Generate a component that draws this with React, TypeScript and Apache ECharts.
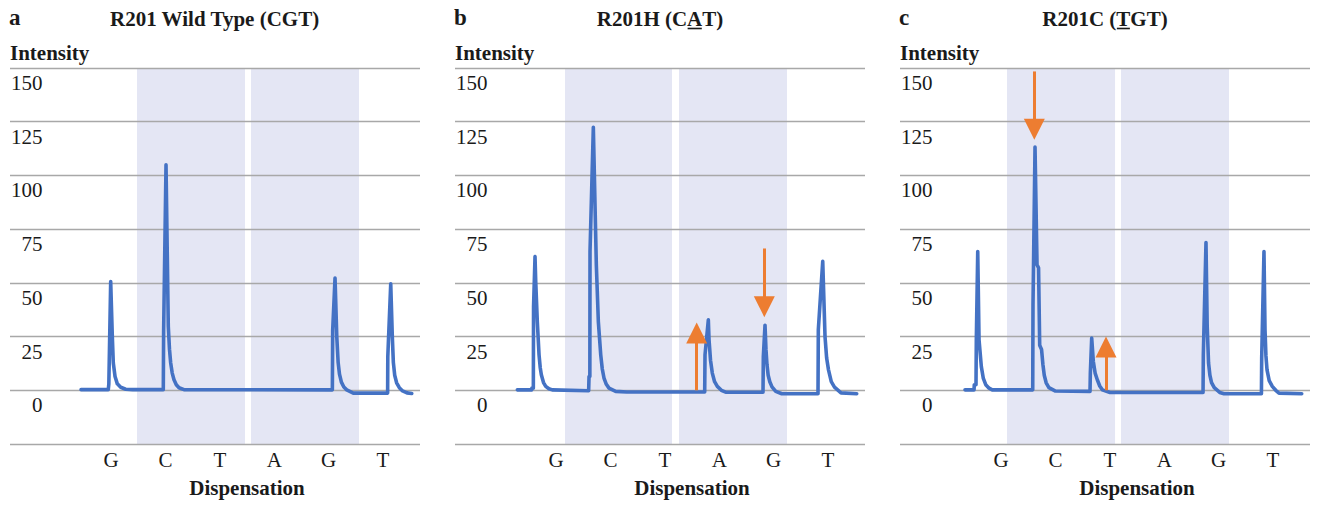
import React, { useEffect, useRef } from "react";
import * as echarts from "echarts";

// ---------- data ----------
const DISPENSATIONS = ["G", "C", "T", "A", "G", "T"];
const DISP_POS = [1, 2, 3, 4, 5, 6];
const PANEL_LETTERS = ["a", "b", "c"];
// [before underline, underlined, after underline]
const TITLES = [
  ["R201 Wild Type (CGT)", "", ""],
  ["R201H (C", "A", "T)"],
  ["R201C (", "T", "GT)"],
];
const Y_MIN = -25;
const Y_MAX = 150;
const Y_STEP = 25;
const X_MIN = -0.857;
const X_MAX = 6.68;

// pyrogram traces: [dispensation position, intensity]
const traceA = [
  [0.449, 0.3], [0.95, 0.3], [0.96, 3], [0.994, 50.6], [1.024, 25], [1.042, 12.7], [1.074, 6.4], [1.116, 3],
  [1.178, 1.4], [1.27, 0.5], [1.4, 0.3],
  [1.961, 0.3], [1.967, 27.4], [2.011, 105], [2.053, 29.7], [2.075, 19], [2.097, 12.7], [2.125, 8], [2.158, 4.9],
  [2.2, 2.6], [2.25, 1.2], [2.342, 0.3],
  [5.069, 0.2], [5.075, 28], [5.118, 52.2], [5.15, 25], [5.175, 13], [5.2, 7.5], [5.235, 3.8], [5.28, 1.5],
  [5.333, 0.2], [5.454, -1.3],
  [6.085, -1.3], [6.088, 15.7], [6.142, 49.6], [6.171, 25], [6.19, 13], [6.215, 7], [6.25, 3.5], [6.3, 1.2],
  [6.36, -0.3], [6.44, -1.2], [6.528, -1.5],
];
const traceB = [
  [0.289, 0.2], [0.553, 0.2], [0.556, 1], [0.583, 1], [0.587, 39], [0.614, 62.3], [0.627, 50.6], [0.656, 32],
  [0.688, 16.5], [0.71, 10.5], [0.73, 7.2], [0.77, 3.6], [0.811, 1.8], [0.87, 0.7], [0.932, 0.2],
  [1.6, -0.2], [1.607, 6.4], [1.622, 6.4], [1.625, 64.6], [1.686, 122.4], [1.741, 58.4], [1.778, 32], [1.822, 16.5],
  [1.85, 10], [1.882, 5.7], [1.925, 2.8], [1.974, 1], [2.097, -0.5], [2.3, -0.8],
  [3.733, -0.8], [3.739, 16.5], [3.8, 32.8], [3.813, 23.5], [3.84, 14], [3.873, 8], [3.915, 4], [3.965, 1.8],
  [4.04, 0], [4.119, -0.9],
  [4.805, -0.9], [4.811, 15.7], [4.842, 30.3], [4.86, 18.8], [4.878, 12], [4.9, 7], [4.93, 4], [4.97, 1.6],
  [5.039, -0.5], [5.15, -1.6],
  [5.816, -1.6], [5.822, 28.2], [5.903, 60], [5.945, 25], [5.975, 15], [6.009, 9.5], [6.06, 4], [6.119, 1.5],
  [6.239, -1.2], [6.528, -1.6],
];
const traceC = [
  [0.338, 0.2], [0.504, 0.2], [0.509, 2.6], [0.54, 2.6], [0.546, 23.5], [0.572, 64.6], [0.596, 23.5], [0.638, 11],
  [0.675, 5.5], [0.719, 2.6], [0.78, 1], [0.84, 0.2],
  [1.583, 0.2], [1.588, 39.8], [1.625, 113.2], [1.662, 58.4], [1.69, 57], [1.711, 21], [1.745, 19], [1.77, 12],
  [1.795, 7], [1.83, 3.5], [1.88, 1.2], [1.993, -0.3],
  [2.636, -0.5], [2.642, 8], [2.667, 24.3], [2.697, 13.4], [2.73, 8], [2.77, 4.9], [2.815, 2], [2.862, 0.2], [3.004, -1],
  [4.714, -1], [4.719, 16.5], [4.768, 68.8], [4.79, 30], [4.815, 12.7], [4.84, 7], [4.87, 3.6], [4.92, 1.2],
  [5.02, -1], [5.1, -1.6],
  [5.787, -1.6], [5.792, 15], [5.834, 64.6], [5.853, 28.2], [5.87, 16], [5.89, 9.5], [5.93, 4.5], [5.987, 1.8],
  [6.05, 0], [6.11, -1.3], [6.528, -1.6],
];
const TRACES = [traceA, traceB, traceC];

// shaded dispensation bands: [from, to]
const bandsA = [[1.478, 3.463], [3.574, 5.559]];
const bandsB = [[1.165, 3.132], [3.261, 5.246]];
const bandsC = [[1.11, 3.096], [3.206, 5.191]];
const BANDS = [bandsA, bandsB, bandsC];

// arrows: [position, intensity at tail, intensity at tip]
const arrowsA: number[][] = [];
const arrowsB = [[3.586, 0, 31.6], [4.829, 66, 34]];
const arrowsC = [[1.612, 148.4, 116.6], [2.93, 0, 25]];
const ARROWS = [arrowsA, arrowsB, arrowsC];

// ---------- layout / style ----------
const W = 1319;
const H = 506;
const GRID_LEFTS = [10, 455, 900];
const GRID_TOP = 68;
const GRID_W = 410;
const GRID_H = 376;
const FONT = '"Liberation Serif", "Times New Roman", serif';
const TEXT = "#1a1a1a";
const BLUE = "#4472C4";
const ORANGE = "#ED7D31";
const BAND = "#E4E6F4";
const GRIDLINE = "#A8A8A8";
const HEAD = 21;

function measure(text: string, font: string) {
  const c = document.createElement("canvas").getContext("2d");
  if (!c) return text.length * 10;
  c.font = font;
  return c.measureText(text).width;
}

function buildOption() {
  const pxPerUnit = GRID_H / (Y_MAX - Y_MIN);
  const titleFont = `bold 21px ${FONT}`;
  const graphics: any[] = [];

  GRID_LEFTS.forEach((left, i) => {
    graphics.push({
      type: "text",
      x: left - 1,
      y: 17,
      style: { text: PANEL_LETTERS[i], font: `bold 23px ${FONT}`, fill: TEXT, align: "left", verticalAlign: "middle", textAlign: "left", textVerticalAlign: "middle" },
    });
    const [pre, und, post] = TITLES[i];
    const wPre = measure(pre, titleFont);
    const wUnd = measure(und, titleFont);
    const wPost = measure(post, titleFont);
    const cx = left + GRID_W / 2;
    let x0 = cx - (wPre + wUnd + wPost) / 2;
    const parts = [[pre, wPre], [und, wUnd], [post, wPost]] as [string, number][];
    parts.forEach(([t, w], k) => {
      if (t) {
        graphics.push({
          type: "text",
          x: x0,
          y: 19,
          style: { text: t, font: titleFont, fill: TEXT, align: "left", verticalAlign: "middle", textAlign: "left", textVerticalAlign: "middle" },
        });
        if (k === 1) {
          graphics.push({
            type: "line",
            shape: { x1: x0 + 0.5, y1: 28.5, x2: x0 + w - 0.5, y2: 28.5 },
            style: { stroke: TEXT, lineWidth: 1.6 },
          });
        }
      }
      x0 += w;
    });
    graphics.push({
      type: "text",
      x: left,
      y: 53,
      style: { text: "Intensity", font: titleFont, fill: TEXT, align: "left", verticalAlign: "middle", textAlign: "left", textVerticalAlign: "middle" },
    });
    const mid = (DISP_POS[0] + DISP_POS[DISP_POS.length - 1]) / 2;
    graphics.push({
      type: "text",
      x: left + ((mid - X_MIN) / (X_MAX - X_MIN)) * GRID_W,
      y: 488,
      style: { text: "Dispensation", font: titleFont, fill: TEXT, align: "center", verticalAlign: "middle", textAlign: "center", textVerticalAlign: "middle" },
    });
  });

  const grid = GRID_LEFTS.map((left) => ({
    left,
    top: GRID_TOP,
    width: GRID_W,
    height: GRID_H,
    containLabel: false,
    outerBoundsMode: "none",
  }));

  const xAxis = GRID_LEFTS.map((_, i) => ({
    type: "value",
    gridIndex: i,
    min: X_MIN,
    max: X_MAX,
    axisLine: { show: false },
    axisTick: { show: false },
    splitLine: { show: false },
    axisLabel: {
      customValues: DISP_POS,
      formatter: (v: number) => DISPENSATIONS[Math.round(v) - 1] ?? "",
      margin: 5,
      fontSize: 21,
      fontFamily: FONT,
      color: TEXT,
    },
  }));

  const yAxis = GRID_LEFTS.map((_, i) => ({
    type: "value",
    gridIndex: i,
    min: Y_MIN,
    max: Y_MAX,
    interval: Y_STEP,
    z: 2,
    axisLine: { show: false },
    axisTick: { show: false },
    splitLine: { show: true, lineStyle: { color: GRIDLINE, width: 1.3 } },
    axisLabel: {
      showMaxLabel: true,
      showMinLabel: true,
      formatter: (v: number) => (v < 0 ? "" : String(v)),
      margin: -32.5,
      align: "right",
      verticalAlign: "top",
      lineHeight: 30,
      fontSize: 21,
      fontFamily: FONT,
      color: TEXT,
    },
  }));

  const series: any[] = [];
  GRID_LEFTS.forEach((_, i) => {
    series.push({
      type: "line",
      xAxisIndex: i,
      yAxisIndex: i,
      data: [],
      z: 1,
      silent: true,
      markArea: {
        silent: true,
        itemStyle: { color: BAND },
        data: BANDS[i].map(([a, b]) => [{ xAxis: a }, { xAxis: b }]),
      },
    });
    series.push({
      type: "line",
      xAxisIndex: i,
      yAxisIndex: i,
      data: TRACES[i],
      z: 3,
      silent: true,
      showSymbol: false,
      symbol: "none",
      lineStyle: { color: BLUE, width: 3.6, join: "round", cap: "round" },
      markLine: ARROWS[i].length
        ? {
            silent: true,
            symbol: ["none", "triangle"],
            symbolSize: HEAD,
            label: { show: false },
            emphasis: { disabled: true },
            lineStyle: { color: ORANGE, width: 3, type: "solid", opacity: 1 },
            itemStyle: { color: ORANGE },
            data: ARROWS[i].map(([x, from, tip]) => [
              { coord: [x, from] },
              { coord: [x, tip - (Math.sign(tip - from) * HEAD) / 2 / pxPerUnit] },
            ]),
          }
        : undefined,
    });
  });

  return {
    animation: false,
    backgroundColor: "#ffffff",
    grid,
    xAxis,
    yAxis,
    series,
    graphic: graphics,
  };
}

export default function App() {
  const ref = useRef<HTMLDivElement>(null);
  useEffect(() => {
    if (!ref.current) return;
    const chart = echarts.init(ref.current, undefined, { renderer: "svg" });
    chart.setOption(buildOption() as any);
    return () => chart.dispose();
  }, []);
  return (
    <div
      ref={ref}
      style={{ position: "absolute", left: 0, top: 0, width: W, height: H, background: "#fff" }}
    />
  );
}
